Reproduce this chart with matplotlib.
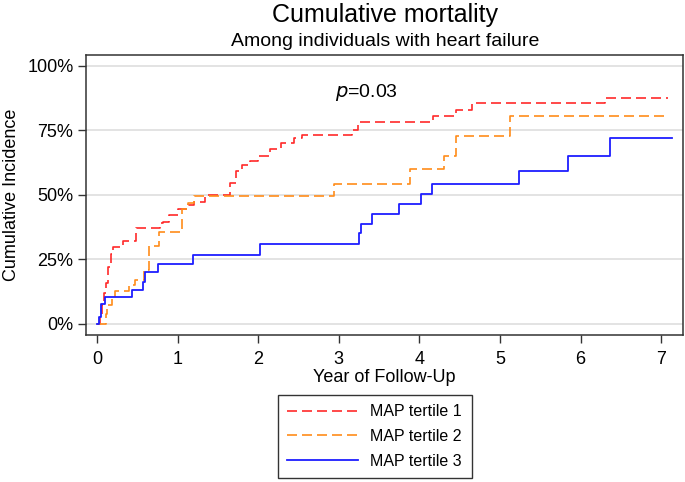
import numpy as np
import matplotlib
matplotlib.use('Agg')
import matplotlib.pyplot as plt
from matplotlib.ticker import FuncFormatter

plt.rcParams['font.family'] = ['Liberation Sans', 'DejaVu Sans']

# step curves: (year, cumulative incidence %)
t1_years = [0.00, 0.04, 0.06, 0.09, 0.11, 0.14, 0.17, 0.20, 0.32, 0.49, 0.78, 0.82,
            0.90, 1.00, 1.13, 1.20, 1.34, 1.65, 1.72, 1.80, 1.90, 2.00, 2.15, 2.28,
            2.45, 2.55, 3.17, 3.24, 4.17, 4.46, 4.65, 6.30, 7.09]
t1_pct = [0, 3, 7.5, 12, 16, 22, 27, 29.9, 32.2, 37.0, 38.9, 39.6,
          42.1, 44.3, 46.0, 47.3, 49.9, 54.4, 59.0, 61.5, 63.0, 65.1, 67.6, 69.9,
          71.8, 73.1, 75.0, 78.0, 80.3, 82.6, 85.4, 87.6, 87.6]

t2_years = [0.00, 0.11, 0.13, 0.19, 0.23, 0.40, 0.47, 0.58, 0.65, 0.77, 1.05, 1.13,
            1.20, 2.94, 3.88, 4.31, 4.45, 5.12, 7.07]
t2_pct = [0, 4, 7.4, 10, 12.9, 15, 17, 20.9, 30.2, 35.4, 44.3, 46.8,
          49.4, 54.2, 59.8, 64.9, 72.9, 80.3, 80.3]

t3_years = [0.00, 0.02, 0.05, 0.10, 0.44, 0.575, 0.595, 0.76, 1.19, 2.02, 3.25, 3.27,
            3.41, 3.75, 4.02, 4.16, 5.23, 5.85, 6.37, 7.13]
t3_pct = [0, 2.8, 7.7, 10.3, 13.2, 16.4, 19.9, 23.2, 26.7, 30.9, 35.0, 38.6,
          42.5, 46.4, 50.2, 54.0, 59.1, 64.9, 72.0, 72.0]

labels = ['MAP tertile 1', 'MAP tertile 2', 'MAP tertile 3']
yticks = [0, 25, 50, 75, 100]
xticks = [0, 1, 2, 3, 4, 5, 6, 7]

fig = plt.figure(figsize=(6.85, 4.82), dpi=100)
ax = fig.add_axes([0.1255, 0.305, 0.8715, 0.581])

for y in yticks:
    ax.axhline(y, color='#e3e3e3', lw=1.4, zorder=0)

ax.step(t1_years, t1_pct, where='post', color='#ff2a2a', lw=1.2,
        dashes=(6, 3), label=labels[0])
ax.step(t2_years, t2_pct, where='post', color='#ff8c1a', lw=1.2,
        dashes=(6, 3), label=labels[1])
ax.step(t3_years, t3_pct, where='post', color='#1e1eff', lw=1.3,
        label=labels[2])

ax.set_xlim(-0.136, 7.27)
ax.set_ylim(-4.3, 104.1)
ax.set_xticks(xticks)
ax.set_yticks(yticks)
ax.yaxis.set_major_formatter(FuncFormatter(lambda v, p: '{:d}%'.format(int(v))))
ax.tick_params(labelsize=13, length=6, width=1, color='#333333', pad=3)
ax.tick_params(axis='x', pad=5.5)
for s in ax.spines.values():
    s.set_color('#333333')
    s.set_linewidth(1.1)

ax.set_xlabel('Year of Follow-Up', fontsize=13, labelpad=1)
ax.set_ylabel('Cumulative Incidence', fontsize=13, labelpad=5)

ax.text(2.95, 89.4, r'$\it{p}$=0.03', fontsize=14, va='center', ha='left')

fig.text(0.562, 0.968, 'Cumulative mortality', fontsize=18, ha='center', va='center')
fig.text(0.562, 0.914, 'Among individuals with heart failure', fontsize=14,
         ha='center', va='center')

leg = fig.legend(loc='lower center', bbox_to_anchor=(0.547, 0.008), fontsize=11.5,
                 handlelength=4.4, fancybox=False, framealpha=1, edgecolor='#333333',
                 borderpad=0.6, labelspacing=0.6, handletextpad=0.8, borderaxespad=0)
leg.get_frame().set_linewidth(1.0)

fig.savefig('out.png', dpi=100)
